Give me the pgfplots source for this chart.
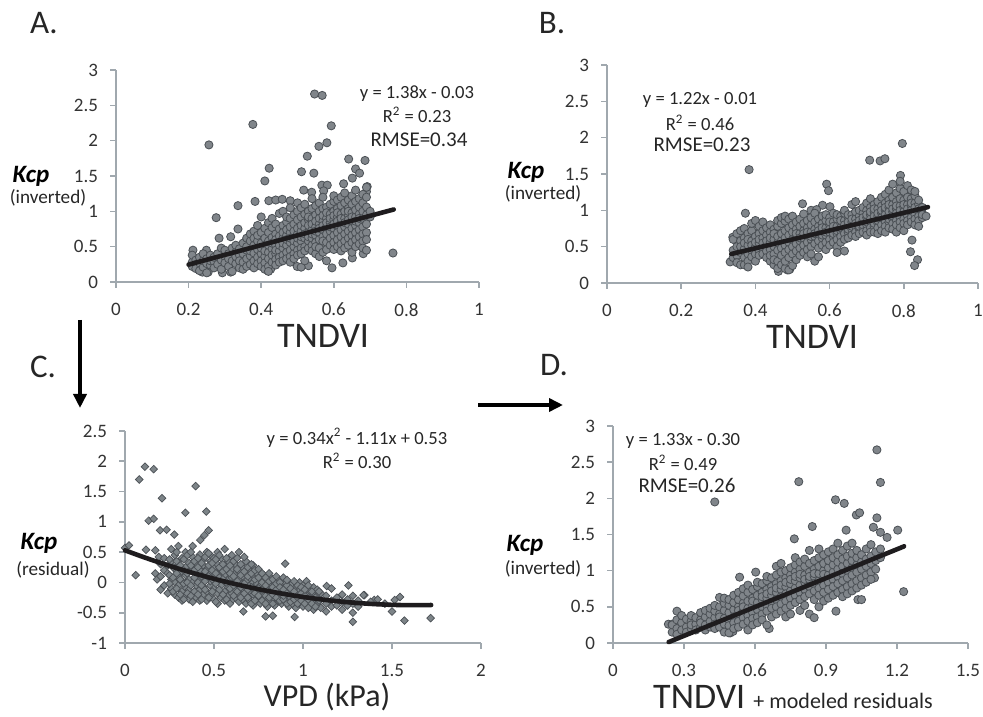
\documentclass[border=0pt]{standalone}
\usepackage{pgfplots}
\pgfplotsset{compat=1.18}
\usepackage{fontspec}
\setmainfont{Carlito}
\usetikzlibrary{arrows.meta}

\definecolor{ptfill}{RGB}{128,133,138}
\definecolor{ptedge}{RGB}{75,80,85}
\definecolor{dmfill}{RGB}{125,132,136}
\definecolor{axgray}{RGB}{160,168,174}
\definecolor{fitblk}{RGB}{30,28,30}

\pgfplotsset{
  panel/.style={
    scale only axis, anchor=south west, clip=false, clip mode=individual,
    axis lines=left, axis line style={draw=axgray, line width=0.8pt, -},
    tick align=outside, major tick length=3pt,
    tick style={draw=axgray, line width=0.8pt},
    ticklabel style={font=\fontsize{9.5}{11}\selectfont, text=black!80},
    /pgf/number format/assume math mode=true,
    xticklabel shift=4pt, yticklabel shift=2.5pt,
  },
  dots/.style={only marks, mark=*, mark size=2.05pt,
    mark options={fill=ptfill, draw=ptedge, line width=0.4pt}},
  fit/.style={fitblk, line width=2.3pt, line cap=round},
}

\begin{document}
\begin{tikzpicture}[x=0.5pt, y=0.5pt]
\useasboundingbox (0,0) rectangle (983,716);

% ---------- A ----------
\begin{axis}[panel, at={(58pt,217pt)}, width=181.5pt, height=106pt,
  xmin=0, xmax=1, ymin=0, ymax=3,
  xtick={0,0.2,0.4,0.6,0.8,1}, ytick={0,0.5,1,1.5,2,2.5,3}]
\addplot+[dots] coordinates {
(0.256,1.94)(0.377,2.23)(0.547,2.66)(0.568,2.64)(0.593,2.21)(0.581,1.97)(0.559,1.92)
(0.527,1.78)(0.641,1.74)(0.686,1.72)(0.422,1.61)(0.41,1.43)(0.511,1.56)(0.545,1.54)
(0.66,1.60)(0.671,1.54)(0.651,1.47)(0.567,1.37)(0.582,1.37)(0.572,1.29)(0.517,1.30)
(0.539,1.27)(0.627,1.39)(0.692,1.35)(0.69,1.28)(0.383,1.14)(0.336,1.08)(0.421,1.15)
(0.44,1.16)(0.458,1.17)(0.48,1.15)(0.276,0.91)(0.284,0.62)(0.336,0.75)(0.316,0.64)
(0.212,0.45)(0.249,0.45)(0.763,0.41)(0.595,0.20)(0.625,0.27)(0.651,0.34)(0.681,0.40)
(0.293,0.13)(0.316,0.14)(0.238,0.14)(0.254,0.14)(0.426,0.18)(0.499,0.22)(0.53,0.23)(0.51,0.21)
(0.21,0.28)(0.21,0.22)(0.21,0.38)(0.22,0.31)(0.22,0.25)(0.22,0.19)
(0.23,0.27)(0.23,0.35)(0.23,0.16)(0.24,0.21)(0.24,0.30)(0.24,0.40)
(0.25,0.33)(0.25,0.26)(0.25,0.13)(0.26,0.38)(0.26,0.24)(0.26,0.30)
(0.27,0.29)(0.27,0.35)(0.27,0.20)(0.28,0.25)(0.28,0.40)
(0.29,0.31)(0.29,0.18)(0.29,0.48)(0.30,0.36)(0.30,0.27)(0.30,0.45)
(0.31,0.22)(0.31,0.40)(0.31,0.33)(0.32,0.30)(0.32,0.48)(0.32,0.15)
(0.33,0.42)(0.33,0.26)(0.33,0.36)(0.33,0.52)(0.34,0.38)(0.34,0.20)(0.34,0.47)(0.34,0.30)
(0.35,0.28)(0.35,0.55)(0.35,0.40)(0.35,0.18)
(0.36,0.45)(0.36,0.33)(0.36,0.62)(0.36,0.22)(0.36,0.50)
(0.37,0.37)(0.37,0.25)(0.37,0.58)(0.37,0.44)(0.37,0.68)
(0.38,0.30)(0.38,0.52)(0.38,0.41)(0.38,0.72)(0.38,0.20)(0.38,0.62)
(0.39,0.46)(0.39,0.35)(0.39,0.58)(0.39,0.26)(0.39,0.80)(0.39,0.66)
(0.40,0.40)(0.40,0.55)(0.40,0.30)(0.40,0.70)(0.40,0.22)(0.40,0.92)(0.40,0.48)
(0.41,0.50)(0.41,0.36)(0.41,0.62)(0.41,0.27)(0.41,0.76)(0.41,0.18)(0.41,0.44)
(0.42,0.58)(0.42,0.42)(0.42,0.33)(0.42,0.70)(0.42,0.22)(0.42,0.84)(0.42,0.15)(0.42,0.52)
(0.43,0.47)(0.43,0.63)(0.43,0.38)(0.43,0.28)(0.43,0.77)(0.43,0.55)(0.43,0.90)
(0.44,0.52)(0.44,0.40)(0.44,0.68)(0.44,0.32)(0.44,0.60)(0.44,0.82)(0.44,0.24)(0.44,0.45)
(0.45,0.58)(0.45,0.44)(0.45,0.75)(0.45,0.35)(0.45,0.65)(0.45,0.97)(0.45,0.28)(0.45,0.52)
(0.46,0.62)(0.46,0.48)(0.46,0.38)(0.46,0.80)(0.46,0.55)(0.46,0.70)(0.46,0.30)(0.46,1.00)
(0.47,0.66)(0.47,0.52)(0.47,0.42)(0.47,0.85)(0.47,0.33)(0.47,0.74)(0.47,0.60)(0.47,0.92)
(0.48,0.70)(0.48,0.56)(0.48,0.45)(0.48,0.90)(0.48,0.36)(0.48,0.78)(0.48,0.62)(0.48,1.05)(0.48,0.28)
(0.49,0.64)(0.49,0.50)(0.49,0.82)(0.49,0.40)(0.49,0.95)(0.49,0.72)(0.49,0.58)(0.49,0.33)
(0.50,0.68)(0.50,0.55)(0.50,0.88)(0.50,0.45)(0.50,1.00)(0.50,0.76)(0.50,0.62)(0.50,0.38)(0.50,1.12)
(0.51,0.72)(0.51,0.58)(0.51,0.48)(0.51,0.92)(0.51,0.80)(0.51,0.64)(0.51,1.05)(0.51,0.40)
(0.52,0.76)(0.52,0.62)(0.52,0.50)(0.52,0.96)(0.52,0.84)(0.52,0.68)(0.52,0.44)(0.52,1.10)(0.52,0.30)
(0.53,0.70)(0.53,0.58)(0.53,0.88)(0.53,0.80)(0.53,1.00)(0.53,0.48)(0.53,0.64)(0.53,0.92)
(0.54,0.74)(0.54,0.62)(0.54,0.90)(0.54,0.52)(0.54,1.04)(0.54,0.82)(0.54,0.68)(0.54,0.44)(0.54,1.18)
(0.55,0.78)(0.55,0.66)(0.55,0.95)(0.55,0.56)(0.55,1.08)(0.55,0.86)(0.55,0.72)(0.55,0.40)(0.55,0.50)
(0.56,0.82)(0.56,0.70)(0.56,0.60)(0.56,1.00)(0.56,0.90)(0.56,0.76)(0.56,1.12)(0.56,0.48)(0.56,0.36)
(0.57,0.86)(0.57,0.74)(0.57,0.64)(0.57,1.04)(0.57,0.94)(0.57,0.58)(0.57,0.80)(0.57,1.20)(0.57,0.42)
(0.58,0.90)(0.58,0.78)(0.58,0.68)(0.58,1.06)(0.58,0.56)(0.58,0.98)(0.58,0.84)(0.58,0.46)(0.58,0.30)
(0.59,0.84)(0.59,0.72)(0.59,0.96)(0.59,0.62)(0.59,1.10)(0.59,0.52)(0.59,0.90)(0.59,0.78)
(0.60,0.88)(0.60,0.76)(0.60,1.00)(0.60,0.66)(0.60,0.56)(0.60,1.14)(0.60,0.94)(0.60,0.82)(0.60,0.46)(0.60,1.22)
(0.61,0.92)(0.61,0.80)(0.61,0.70)(0.61,1.04)(0.61,0.60)(0.61,1.16)(0.61,0.86)(0.61,0.50)(0.61,0.98)
(0.62,0.96)(0.62,0.84)(0.62,0.74)(0.62,1.08)(0.62,0.64)(0.62,0.90)(0.62,1.20)(0.62,0.54)(0.62,0.44)
(0.63,0.90)(0.63,0.78)(0.63,1.00)(0.63,0.68)(0.63,1.12)(0.63,0.58)(0.63,0.84)(0.63,0.48)(0.63,1.26)
(0.64,0.94)(0.64,0.82)(0.64,0.72)(0.64,1.04)(0.64,0.62)(0.64,1.16)(0.64,0.88)(0.64,0.52)(0.64,1.00)
(0.65,0.98)(0.65,0.86)(0.65,0.76)(0.65,1.10)(0.65,0.66)(0.65,0.56)(0.65,0.92)(0.65,1.22)(0.65,0.42)
(0.66,0.92)(0.66,0.80)(0.66,1.02)(0.66,0.70)(0.66,1.14)(0.66,0.60)(0.66,0.86)(0.66,0.50)(0.66,1.30)
(0.67,0.96)(0.67,0.84)(0.67,0.74)(0.67,1.06)(0.67,0.64)(0.67,1.18)(0.67,0.54)(0.67,0.90)
(0.68,0.90)(0.68,0.78)(0.68,1.00)(0.68,0.68)(0.68,1.12)(0.68,0.58)(0.68,0.48)(0.68,1.24)
(0.69,0.95)(0.69,0.82)(0.69,0.70)(0.69,1.06)(0.69,0.60)(0.69,1.20)(0.69,0.45)(0.69,1.34)
(0.70,0.92)(0.70,1.00)
};
\addplot[fit] coordinates {(0.2,0.246)(0.765,1.026)};
\end{axis}

% ---------- B ----------
\begin{axis}[panel, at={(303.5pt,216.5pt)}, width=185.5pt, height=109pt,
  xmin=0, xmax=1, ymin=0, ymax=3,
  xtick={0,0.2,0.4,0.6,0.8,1}, ytick={0,0.5,1,1.5,2,2.5,3}]
\addplot+[dots] coordinates {
(0.383,1.56)(0.373,0.96)(0.796,1.92)(0.708,1.69)(0.736,1.68)(0.749,1.71)
(0.592,1.36)(0.597,1.27)(0.527,1.09)(0.581,1.07)(0.601,1.05)(0.55,1.00)(0.565,1.01)
(0.791,1.48)(0.822,0.59)(0.818,0.43)(0.837,0.32)(0.829,0.24)(0.332,0.29)(0.339,0.63)
(0.462,0.16)(0.486,0.18)(0.493,0.19)
(0.34,0.45)(0.34,0.60)(0.34,0.35)(0.35,0.50)(0.35,0.38)(0.35,0.68)(0.35,0.28)
(0.36,0.42)(0.36,0.58)(0.36,0.72)(0.36,0.25)(0.36,0.50)
(0.37,0.47)(0.37,0.62)(0.37,0.35)(0.37,0.75)(0.37,0.25)(0.37,0.55)
(0.38,0.52)(0.38,0.40)(0.38,0.68)(0.38,0.30)(0.38,0.60)(0.38,0.22)
(0.39,0.45)(0.39,0.58)(0.39,0.36)(0.39,0.72)(0.39,0.82)(0.39,0.52)
(0.40,0.50)(0.40,0.40)(0.40,0.64)(0.40,0.30)(0.40,0.86)(0.40,0.56)
(0.41,0.55)(0.41,0.44)(0.41,0.68)(0.41,0.38)(0.41,0.60)(0.41,0.78)
(0.42,0.48)(0.42,0.62)(0.42,0.40)(0.42,0.72)(0.42,0.55)(0.42,0.84)
(0.43,0.52)(0.43,0.66)(0.43,0.44)(0.43,0.35)(0.43,0.58)(0.43,0.76)
(0.44,0.56)(0.44,0.46)(0.44,0.70)(0.44,0.30)(0.44,0.62)(0.44,0.38)(0.44,0.80)
(0.45,0.60)(0.45,0.50)(0.45,0.74)(0.45,0.25)(0.45,0.40)(0.45,0.68)(0.45,0.32)
(0.46,0.55)(0.46,0.64)(0.46,0.45)(0.46,0.20)(0.46,0.78)(0.46,0.30)(0.46,0.86)
(0.47,0.58)(0.47,0.68)(0.47,0.48)(0.47,0.25)(0.47,0.82)(0.47,0.38)(0.47,0.90)
(0.48,0.62)(0.48,0.52)(0.48,0.72)(0.48,0.20)(0.48,0.85)(0.48,0.30)(0.48,0.42)(0.48,0.92)
(0.49,0.56)(0.49,0.66)(0.49,0.46)(0.49,0.76)(0.49,0.18)(0.49,0.88)(0.49,0.35)
(0.50,0.60)(0.50,0.70)(0.50,0.50)(0.50,0.80)(0.50,0.24)(0.50,0.40)(0.50,0.92)
(0.51,0.64)(0.51,0.54)(0.51,0.74)(0.51,0.44)(0.51,0.84)(0.51,0.32)(0.51,0.68)
(0.52,0.58)(0.52,0.68)(0.52,0.78)(0.52,0.48)(0.52,0.88)(0.52,0.38)(0.52,0.62)
(0.53,0.62)(0.53,0.72)(0.53,0.52)(0.53,0.82)(0.53,0.42)(0.53,0.95)(0.53,0.68)
(0.54,0.66)(0.54,0.56)(0.54,0.76)(0.54,0.86)(0.54,0.46)(0.54,0.70)(0.54,0.36)
(0.55,0.70)(0.55,0.60)(0.55,0.80)(0.55,0.50)(0.55,0.90)(0.55,0.64)(0.55,0.40)
(0.56,0.64)(0.56,0.74)(0.56,0.54)(0.56,0.84)(0.56,0.96)(0.56,0.68)(0.56,0.30)
(0.57,0.68)(0.57,0.78)(0.57,0.58)(0.57,0.88)(0.57,0.48)(0.57,0.72)(0.57,0.36)
(0.58,0.72)(0.58,0.62)(0.58,0.82)(0.58,0.52)(0.58,0.92)(0.58,0.76)(0.58,0.66)
(0.59,0.66)(0.59,0.76)(0.59,0.86)(0.59,0.56)(0.59,0.70)(0.59,0.46)(0.59,0.94)
(0.60,0.70)(0.60,0.80)(0.60,0.60)(0.60,0.90)(0.60,0.74)(0.60,0.52)(0.60,0.84)
(0.61,0.74)(0.61,0.64)(0.61,0.84)(0.61,0.56)(0.61,0.78)(0.61,0.96)(0.61,0.68)
(0.62,0.68)(0.62,0.78)(0.62,0.88)(0.62,0.60)(0.62,0.72)(0.62,0.50)(0.62,0.94)(0.62,0.42)
(0.63,0.72)(0.63,0.82)(0.63,0.64)(0.63,0.92)(0.63,0.76)(0.63,0.56)(0.63,0.86)
(0.64,0.76)(0.64,0.86)(0.64,0.68)(0.64,0.96)(0.64,0.80)(0.64,0.60)(0.64,0.44)(0.64,1.00)
(0.65,0.80)(0.65,0.70)(0.65,0.90)(0.65,0.74)(0.65,0.84)(0.65,0.62)(0.65,0.94)
(0.66,0.74)(0.66,0.84)(0.66,0.94)(0.66,0.66)(0.66,0.78)(0.66,0.88)(0.66,1.08)
(0.67,0.78)(0.67,0.88)(0.67,0.70)(0.67,0.98)(0.67,0.82)(0.67,0.64)(0.67,1.12)
(0.68,0.82)(0.68,0.92)(0.68,0.74)(0.68,0.86)(0.68,1.00)(0.68,0.68)(0.68,0.78)
(0.69,0.86)(0.69,0.76)(0.69,0.96)(0.69,0.90)(0.69,0.80)(0.69,1.04)(0.69,0.70)
(0.70,0.80)(0.70,0.90)(0.70,1.00)(0.70,0.72)(0.70,0.84)(0.70,0.94)(0.70,0.66)(0.70,1.10)
(0.71,0.84)(0.71,0.94)(0.71,0.76)(0.71,1.04)(0.71,0.88)(0.71,0.70)(0.71,0.98)(0.71,1.16)
(0.72,0.88)(0.72,0.78)(0.72,0.98)(0.72,0.82)(0.72,1.08)(0.72,0.92)(0.72,0.70)(0.72,1.02)
(0.73,0.92)(0.73,0.82)(0.73,1.02)(0.73,0.76)(0.73,0.86)(0.73,1.12)(0.73,0.96)(0.73,0.68)
(0.74,0.86)(0.74,0.96)(0.74,1.06)(0.74,0.80)(0.74,0.90)(0.74,1.18)(0.74,0.72)(0.74,1.00)
(0.75,0.90)(0.75,1.00)(0.75,0.84)(0.75,1.10)(0.75,0.78)(0.75,0.94)(0.75,1.22)(0.75,1.04)(0.75,0.70)
(0.76,0.94)(0.76,0.84)(0.76,1.04)(0.76,0.88)(0.76,1.14)(0.76,0.98)(0.76,0.76)(0.76,1.28)(0.76,1.08)
(0.77,0.88)(0.77,0.98)(0.77,1.08)(0.77,0.82)(0.77,1.18)(0.77,0.92)(0.77,1.02)(0.77,0.74)(0.77,1.36)
(0.78,0.92)(0.78,1.02)(0.78,0.86)(0.78,1.12)(0.78,0.96)(0.78,1.24)(0.78,0.80)(0.78,1.06)(0.78,0.70)
(0.79,0.96)(0.79,0.90)(0.79,1.06)(0.79,1.16)(0.79,0.84)(0.79,1.00)(0.79,1.30)(0.79,0.76)(0.79,1.40)
(0.80,0.94)(0.80,1.04)(0.80,0.88)(0.80,1.14)(0.80,0.98)(0.80,1.26)(0.80,0.82)(0.80,1.08)(0.80,0.72)
(0.81,0.98)(0.81,0.92)(0.81,1.08)(0.81,1.18)(0.81,0.86)(0.81,1.02)(0.81,1.34)(0.81,0.80)
(0.82,0.96)(0.82,1.06)(0.82,0.90)(0.82,1.16)(0.82,1.00)(0.82,1.28)(0.82,0.84)(0.82,1.10)
(0.83,1.00)(0.83,0.94)(0.83,1.10)(0.83,0.88)(0.83,1.20)(0.83,1.04)(0.83,0.80)(0.83,1.26)
(0.84,0.98)(0.84,0.92)(0.84,1.08)(0.84,0.86)(0.84,1.14)(0.84,1.02)(0.84,0.78)
(0.85,0.96)(0.85,0.90)(0.85,1.04)(0.85,0.94)(0.86,0.92)
};
\addplot[fit] coordinates {(0.335,0.399)(0.865,1.045)};
\end{axis}

% ---------- C ----------
\begin{axis}[panel, at={(62.5pt,36.5pt)}, width=178pt, height=106pt,
  xmin=0, xmax=2, ymin=-1, ymax=2.5,
  xtick={0,0.5,1,1.5,2}, ytick={-1,-0.5,0,0.5,1,1.5,2,2.5}]
\addplot+[only marks, mark=square*, mark size=1.35pt,
  mark options={rotate=45, fill=dmfill, draw=ptedge, line width=0.35pt}] coordinates {
(0.0,0.57)(0.022,0.61)(0.06,0.12)(0.08,1.70)(0.112,1.91)(0.161,1.87)(0.118,0.54)
(0.17,0.53)(0.19,0.42)(0.18,0.05)(0.17,0.15)(0.133,1.02)(0.161,1.05)(0.197,0.86)
(0.208,1.39)(0.234,0.87)(0.277,0.79)(0.397,1.59)(0.339,1.15)(0.457,1.17)(0.47,0.86)
(0.446,0.78)(0.423,0.70)(0.9,0.31)(1.255,-0.05)(1.28,-0.65)(1.28,-0.50)(1.50,-0.48)
(1.57,-0.63)(1.717,-0.59)(1.545,-0.24)(1.515,-0.29)(1.345,-0.21)(1.40,-0.29)
(0.79,-0.56)(0.83,-0.55)(0.953,-0.57)(0.665,-0.48)(1.133,-0.06)
(0.20,0.30)(0.20,-0.12)(0.20,0.10)(0.22,0.20)(0.22,0.40)(0.22,-0.05)
(0.24,-0.18)(0.24,0.15)(0.24,0.28)(0.26,0.05)(0.26,-0.10)(0.26,0.35)(0.26,0.55)
(0.28,-0.20)(0.28,0.22)(0.28,0.00)(0.28,0.45)
(0.30,0.10)(0.30,-0.25)(0.30,0.30)(0.30,-0.05)(0.30,0.60)
(0.32,-0.15)(0.32,0.18)(0.32,0.40)(0.32,0.02)(0.32,-0.30)
(0.34,0.25)(0.34,-0.08)(0.34,0.12)(0.34,-0.22)(0.34,0.50)
(0.36,0.05)(0.36,-0.28)(0.36,0.32)(0.36,-0.12)(0.36,0.18)
(0.38,-0.18)(0.38,0.22)(0.38,0.00)(0.38,0.42)(0.38,-0.32)(0.38,0.60)
(0.40,0.10)(0.40,-0.05)(0.40,0.30)(0.40,-0.25)(0.40,0.15)
(0.42,-0.12)(0.42,0.20)(0.42,0.05)(0.42,0.46)(0.42,-0.30)
(0.44,0.28)(0.44,-0.20)(0.44,0.00)(0.44,0.12)(0.44,0.38)(0.44,-0.08)
(0.46,-0.15)(0.46,0.22)(0.46,0.08)(0.46,-0.30)(0.46,0.50)
(0.48,0.15)(0.48,-0.05)(0.48,0.35)(0.48,-0.22)(0.48,0.02)(0.48,0.45)
(0.50,-0.10)(0.50,0.25)(0.50,0.05)(0.50,-0.28)(0.50,0.12)(0.50,0.40)
(0.52,0.18)(0.52,-0.18)(0.52,0.02)(0.52,0.30)(0.52,-0.35)(0.52,0.50)
(0.54,-0.05)(0.54,0.20)(0.54,-0.25)(0.54,0.10)(0.54,0.40)
(0.56,0.12)(0.56,-0.15)(0.56,0.28)(0.56,-0.30)(0.56,0.02)(0.56,0.55)
(0.58,-0.08)(0.58,0.18)(0.58,-0.22)(0.58,0.05)(0.58,0.35)
(0.60,0.08)(0.60,-0.18)(0.60,0.22)(0.60,-0.30)(0.60,-0.02)(0.60,0.45)
(0.62,-0.12)(0.62,0.15)(0.62,-0.25)(0.62,0.00)(0.62,0.30)
(0.64,0.05)(0.64,-0.20)(0.64,0.18)(0.64,-0.32)(0.64,-0.05)(0.64,0.50)
(0.66,-0.10)(0.66,0.10)(0.66,-0.28)(0.66,0.25)(0.66,-0.02)
(0.68,0.02)(0.68,-0.22)(0.68,0.15)(0.68,-0.35)(0.68,-0.08)(0.68,0.35)
(0.70,-0.15)(0.70,0.08)(0.70,-0.30)(0.70,0.20)(0.70,-0.05)
(0.72,0.00)(0.72,-0.20)(0.72,0.12)(0.72,-0.38)(0.72,-0.10)(0.72,0.28)
(0.74,-0.12)(0.74,0.05)(0.74,-0.28)(0.74,0.15)(0.74,-0.02)
(0.76,-0.05)(0.76,-0.25)(0.76,0.10)(0.76,-0.15)(0.76,-0.35)
(0.78,-0.18)(0.78,0.02)(0.78,-0.30)(0.78,0.12)(0.78,-0.08)
(0.80,-0.10)(0.80,-0.28)(0.80,0.05)(0.80,-0.20)(0.80,-0.40)(0.80,0.10)
(0.82,-0.22)(0.82,-0.05)(0.82,-0.32)(0.82,0.08)(0.82,-0.15)
(0.84,-0.12)(0.84,-0.28)(0.84,0.00)(0.84,-0.38)(0.84,-0.20)
(0.86,-0.20)(0.86,-0.05)(0.86,-0.30)(0.86,0.05)(0.86,-0.15)
(0.88,-0.10)(0.88,-0.25)(0.88,0.02)(0.88,-0.35)(0.88,-0.18)
(0.90,-0.22)(0.90,-0.08)(0.90,-0.32)(0.90,0.00)(0.90,-0.15)
(0.92,-0.15)(0.92,-0.28)(0.92,-0.05)(0.92,-0.40)(0.92,-0.20)
(0.94,-0.25)(0.94,-0.10)(0.94,-0.35)(0.94,-0.02)
(0.96,-0.18)(0.96,-0.30)(0.96,-0.08)(0.96,-0.42)
(0.98,-0.22)(0.98,-0.12)(0.98,-0.35)(0.98,0.00)
(1.00,-0.28)(1.00,-0.15)(1.00,-0.40)(1.00,-0.05)
(1.02,-0.20)(1.02,-0.32)(1.02,-0.10)(1.02,0.02)
(1.04,-0.25)(1.04,-0.38)(1.04,-0.15)
(1.06,-0.30)(1.06,-0.18)(1.06,-0.45)(1.06,-0.08)
(1.08,-0.22)(1.08,-0.35)(1.08,-0.12)
(1.10,-0.28)(1.10,-0.42)(1.10,-0.18)
(1.13,-0.35)(1.13,-0.22)(1.13,-0.48)
(1.16,-0.30)(1.16,-0.10)(1.16,-0.40)
(1.19,-0.25)(1.19,-0.38)(1.22,-0.32)(1.22,-0.20)(1.22,-0.45)
(1.25,-0.28)(1.25,-0.38)(1.28,-0.22)(1.28,-0.35)(1.31,-0.30)(1.31,-0.40)
(1.34,-0.21)(1.38,-0.32)(1.42,-0.28)(1.46,-0.35)
(0.25,0.12)(0.25,-0.02)(0.25,0.38)(0.27,0.25)(0.27,-0.15)(0.27,0.08)
(0.29,0.35)(0.29,-0.10)(0.29,0.15)(0.29,0.50)(0.31,0.05)(0.31,0.28)(0.31,-0.20)
(0.33,0.38)(0.33,-0.02)(0.33,0.20)(0.33,-0.28)(0.35,0.15)(0.35,0.45)(0.35,-0.18)(0.35,0.00)
(0.37,0.28)(0.37,-0.05)(0.37,0.50)(0.37,-0.22)(0.39,0.08)(0.39,0.35)(0.39,-0.15)(0.39,0.20)
(0.41,0.25)(0.41,-0.20)(0.41,0.40)(0.41,0.00)(0.43,0.10)(0.43,-0.28)(0.43,0.32)(0.43,-0.05)
(0.45,0.18)(0.45,0.42)(0.45,-0.12)(0.45,0.02)(0.47,0.28)(0.47,-0.25)(0.47,0.10)(0.47,0.48)
(0.49,0.05)(0.49,0.32)(0.49,-0.15)(0.49,0.20)(0.51,0.38)(0.51,-0.02)(0.51,0.15)(0.51,-0.32)
(0.53,0.08)(0.53,0.25)(0.53,-0.12)(0.53,0.45)(0.55,0.30)(0.55,-0.20)(0.55,0.05)(0.55,0.18)
(0.57,0.00)(0.57,0.40)(0.57,-0.28)(0.57,0.22)(0.59,0.15)(0.59,-0.10)(0.59,0.28)(0.59,-0.35)
(0.61,0.35)(0.61,-0.05)(0.61,0.10)(0.61,-0.22)(0.63,-0.15)(0.63,0.22)(0.63,0.02)(0.63,0.40)
(0.65,0.12)(0.65,-0.25)(0.65,0.30)(0.65,-0.08)(0.67,-0.02)(0.67,0.18)(0.67,-0.18)(0.67,0.42)
(0.69,0.10)(0.69,-0.12)(0.69,0.25)(0.69,-0.25)(0.71,-0.08)(0.71,0.15)(0.71,-0.35)(0.71,0.30)
(0.73,0.05)(0.73,-0.18)(0.73,0.20)(0.73,-0.30)(0.75,-0.10)(0.75,0.08)(0.75,-0.22)(0.75,0.22)
(0.77,0.00)(0.77,-0.30)(0.77,0.15)(0.77,-0.12)(0.79,-0.05)(0.79,-0.22)(0.79,0.08)(0.79,-0.35)
(0.81,-0.15)(0.81,0.02)(0.81,-0.25)(0.81,0.15)(0.83,-0.08)(0.83,-0.20)(0.83,0.05)(0.83,-0.35)
(0.85,-0.12)(0.85,-0.25)(0.85,0.10)(0.85,-0.02)(0.87,-0.18)(0.87,-0.30)(0.87,0.00)(0.87,-0.08)
(0.89,-0.12)(0.89,-0.28)(0.89,0.08)(0.89,-0.22)(0.91,-0.05)(0.91,-0.35)(0.91,-0.18)(0.91,0.04)
(0.93,-0.10)(0.93,-0.25)(0.93,-0.32)(0.95,-0.15)(0.95,-0.28)(0.95,0.02)
(0.97,-0.25)(0.97,-0.05)(0.97,-0.35)(0.99,-0.18)(0.99,-0.30)(0.99,-0.08)
(1.01,-0.22)(1.01,-0.12)(1.01,-0.35)(1.03,-0.28)(1.03,-0.05)(1.03,-0.42)
(1.05,-0.15)(1.05,-0.35)(1.07,-0.25)(1.07,-0.40)(1.09,-0.30)(1.09,-0.15)
};
\addplot[fit, smooth] coordinates {
(0,0.53)(0.1,0.4224)(0.2,0.3216)(0.3,0.2276)(0.4,0.1404)(0.5,0.06)(0.6,-0.0136)
(0.7,-0.0804)(0.8,-0.1404)(0.9,-0.1936)(1.0,-0.24)(1.1,-0.2796)(1.2,-0.3124)
(1.3,-0.3384)(1.4,-0.3576)(1.5,-0.37)(1.6,-0.3756)(1.72,-0.3733)};
\end{axis}

% ---------- D ----------
\begin{axis}[panel, at={(306.5pt,36.5pt)}, width=177.5pt, height=108.5pt,
  xmin=0, xmax=1.5, ymin=0, ymax=3,
  xtick={0,0.3,0.6,0.9,1.2,1.5}, ytick={0,0.5,1,1.5,2,2.5,3}]
\addplot+[dots] coordinates {
(0.43,1.95)(0.785,2.23)(1.115,2.67)(1.13,2.22)(0.94,1.98)(0.977,1.93)(1.028,1.77)
(1.042,1.80)(1.115,1.73)(0.985,1.56)(1.203,1.56)(1.13,1.53)(1.158,1.46)(0.842,1.61)
(0.766,1.44)(1.10,1.60)(1.228,0.71)(1.105,0.90)(0.942,0.44)(0.603,0.98)(0.535,0.91)
(0.45,0.63)(0.234,0.26)(0.25,0.26)(0.27,0.44)(0.66,0.20)(0.496,0.14)(0.507,0.16)(1.035,0.60)
(0.25,0.15)(0.25,0.25)(0.27,0.20)(0.27,0.32)(0.27,0.12)(0.29,0.28)(0.29,0.18)(0.29,0.38)
(0.31,0.22)(0.31,0.33)(0.31,0.15)(0.33,0.30)(0.33,0.20)(0.33,0.38)(0.33,0.25)
(0.35,0.26)(0.35,0.35)(0.35,0.18)(0.37,0.32)(0.37,0.22)(0.37,0.42)(0.37,0.28)
(0.39,0.36)(0.39,0.25)(0.39,0.45)(0.39,0.18)(0.41,0.30)(0.41,0.40)(0.41,0.22)(0.41,0.48)
(0.43,0.35)(0.43,0.26)(0.43,0.44)(0.43,0.20)(0.43,0.52)
(0.45,0.40)(0.45,0.30)(0.45,0.50)(0.45,0.22)(0.45,0.36)
(0.47,0.34)(0.47,0.45)(0.47,0.26)(0.47,0.55)(0.47,0.15)(0.47,0.62)
(0.49,0.42)(0.49,0.32)(0.49,0.52)(0.49,0.24)(0.49,0.60)(0.49,0.14)
(0.51,0.46)(0.51,0.36)(0.51,0.56)(0.51,0.28)(0.51,0.66)(0.51,0.20)
(0.53,0.50)(0.53,0.40)(0.53,0.60)(0.53,0.30)(0.53,0.70)(0.53,0.22)(0.53,0.45)
(0.55,0.44)(0.55,0.55)(0.55,0.35)(0.55,0.65)(0.55,0.26)(0.55,0.75)(0.55,0.50)
(0.57,0.48)(0.57,0.58)(0.57,0.38)(0.57,0.70)(0.57,0.30)(0.57,0.80)(0.57,0.18)
(0.59,0.52)(0.59,0.62)(0.59,0.42)(0.59,0.74)(0.59,0.34)(0.59,0.58)(0.59,0.25)
(0.61,0.56)(0.61,0.66)(0.61,0.46)(0.61,0.78)(0.61,0.36)(0.61,0.84)(0.61,0.28)
(0.63,0.60)(0.63,0.50)(0.63,0.70)(0.63,0.40)(0.63,0.82)(0.63,0.64)(0.63,0.32)
(0.65,0.62)(0.65,0.52)(0.65,0.74)(0.65,0.44)(0.65,0.86)(0.65,0.68)(0.65,0.25)(0.65,0.92)
(0.67,0.66)(0.67,0.56)(0.67,0.78)(0.67,0.48)(0.67,0.90)(0.67,0.72)(0.67,0.36)
(0.69,0.70)(0.69,0.60)(0.69,0.82)(0.69,0.50)(0.69,0.94)(0.69,0.76)(0.69,0.40)(0.69,1.06)
(0.71,0.74)(0.71,0.64)(0.71,0.86)(0.71,0.54)(0.71,0.98)(0.71,0.80)(0.71,0.44)(0.71,1.10)
(0.73,0.78)(0.73,0.68)(0.73,0.90)(0.73,0.58)(0.73,1.00)(0.73,0.84)(0.73,0.48)(0.73,0.36)
(0.75,0.72)(0.75,0.82)(0.75,0.62)(0.75,0.94)(0.75,0.52)(0.75,1.04)(0.75,0.88)(0.75,0.40)
(0.77,0.76)(0.77,0.86)(0.77,0.66)(0.77,0.98)(0.77,0.56)(0.77,1.08)(0.77,0.92)(0.77,1.18)
(0.79,0.80)(0.79,0.90)(0.79,0.70)(0.79,1.02)(0.79,0.60)(0.79,1.12)(0.79,0.95)(0.79,0.45)
(0.81,0.84)(0.81,0.74)(0.81,0.94)(0.81,0.64)(0.81,1.06)(0.81,0.88)(0.81,0.52)(0.81,1.16)
(0.83,0.88)(0.83,0.78)(0.83,0.98)(0.83,0.68)(0.83,1.10)(0.83,0.92)(0.83,0.40)(0.83,1.28)
(0.85,0.92)(0.85,0.82)(0.85,1.02)(0.85,0.72)(0.85,1.14)(0.85,0.60)(0.85,0.96)(0.85,0.35)
(0.87,0.86)(0.87,0.96)(0.87,0.76)(0.87,1.06)(0.87,0.66)(0.87,1.18)(0.87,0.50)(0.87,1.30)
(0.89,0.90)(0.89,1.00)(0.89,0.80)(0.89,1.10)(0.89,0.70)(0.89,1.22)(0.89,0.58)(0.89,0.95)
(0.91,0.94)(0.91,1.04)(0.91,0.84)(0.91,1.14)(0.91,0.74)(0.91,1.26)(0.91,0.62)
(0.93,0.98)(0.93,0.88)(0.93,1.08)(0.93,0.78)(0.93,1.18)(0.93,0.66)(0.93,1.30)
(0.95,1.02)(0.95,0.92)(0.95,1.12)(0.95,0.82)(0.95,1.22)(0.95,0.70)(0.95,1.38)
(0.97,0.96)(0.97,1.06)(0.97,0.86)(0.97,1.16)(0.97,0.74)(0.97,1.28)(0.97,0.64)
(0.99,1.00)(0.99,1.10)(0.99,0.90)(0.99,1.20)(0.99,0.78)(0.99,1.34)(0.99,0.68)
(1.01,1.04)(1.01,0.94)(1.01,1.14)(1.01,0.82)(1.01,1.24)(1.01,0.72)(1.01,1.38)
(1.03,1.08)(1.03,0.98)(1.03,1.18)(1.03,0.86)(1.03,1.28)(1.03,0.76)
(1.05,1.02)(1.05,1.12)(1.05,0.90)(1.05,1.22)(1.05,0.80)(1.05,0.60)
(1.07,1.06)(1.07,1.16)(1.07,0.94)(1.07,1.30)(1.07,0.84)
(1.09,1.10)(1.09,1.20)(1.09,0.98)(1.09,1.36)(1.09,0.88)
(1.11,1.14)(1.11,1.26)(1.11,1.02)(1.13,1.18)(1.13,1.30)
};
\addplot[fit] coordinates {(0.235,0.0126)(1.23,1.336)};
\end{axis}

% ---------- text ----------
\tikzset{lab/.style={font=\fontsize{16.5}{19}\selectfont, text=black!85},
  eq/.style={font=\fontsize{9.3}{11}\selectfont, text=black!85},
  rm/.style={font=\fontsize{10.5}{12}\selectfont, text=black!85},
  kcp/.style={font=\fontsize{12.5}{14}\selectfont\bfseries\itshape, text=black},
  sub/.style={font=\fontsize{9.6}{11}\selectfont, text=black!85},
  ttl/.style={font=\fontsize{18}{21}\selectfont, text=black!85}}

\node[lab] at (44,693) {A.};
\node[lab] at (552,693) {B.};
\node[lab] at (43,349) {C.};
\node[lab] at (554,351) {D.};

\node[eq] at (417,622) {y = 1.38x - 0.03};
\node[eq] at (417,601) {R\textsuperscript{2} = 0.23};
\node[rm] at (419,576) {RMSE=0.34};
\node[eq] at (700,616) {y = 1.22x - 0.01};
\node[eq] at (700,593) {R\textsuperscript{2} = 0.46};
\node[rm] at (702,571) {RMSE=0.23};
\node[eq] at (357,278) {y = 0.34x\textsuperscript{2} - 1.11x + 0.53};
\node[eq] at (357,255) {R\textsuperscript{2} = 0.30};
\node[eq] at (683,275) {y = 1.33x - 0.30};
\node[eq] at (683,253) {R\textsuperscript{2} = 0.49};
\node[rm] at (687,231) {RMSE=0.26};

\node[kcp] at (31,540) {Kcp};
\node[sub] at (48,518) {(inverted)};
\node[kcp] at (526,544) {Kcp};
\node[sub] at (543,522) {(inverted)};
\node[kcp] at (39,173) {Kcp};
\node[sub] at (53,146) {(residual)};
\node[kcp] at (525,171) {Kcp};
\node[sub] at (543,147) {(inverted)};

\node[ttl] at (323,380) {TNDVI};
\node[ttl] at (812,379) {TNDVI};
\node[ttl, font=\fontsize{16}{19}\selectfont] at (327,19) {VPD (kPa)};
\node[ttl] at (793,19) {TNDVI {\fontsize{11}{13}\selectfont + modeled residuals}};

\draw[line width=2pt, -{Triangle[length=7pt,width=6.5pt]}] (80,396) -- (80,308);
\draw[line width=2pt, -{Triangle[length=7pt,width=6.5pt]}] (478,311) -- (563,311);
\end{tikzpicture}
\end{document}
